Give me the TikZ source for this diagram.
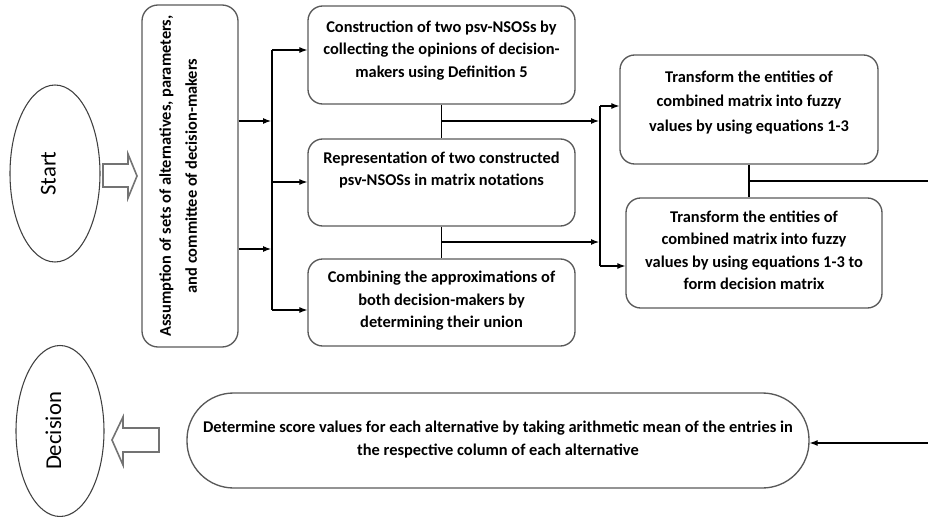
\documentclass[tikz,border=0pt]{standalone}
\usepackage{fontspec}
\setmainfont{Carlito}
\usetikzlibrary{shapes.geometric, arrows.meta}

% text of a box: height, width, gap above the first line, lines
\newcommand{\boxtxt}[4]{\parbox[c][#1][t]{#2}{\centering\vspace*{#3}\strut#4}}
% upright text of an oval, set a little to the left
\newcommand{\ovaltxt}[1]{\rotatebox{90}{#1\rule[-10pt]{0pt}{10pt}}}

\begin{document}
\begin{tikzpicture}[x=0.75pt, y=-0.75pt,
    box/.style={draw=black!65, line width=1pt, rounded corners=11pt, inner sep=0pt,
      font=\bfseries\fontsize{12.3}{16.9}\selectfont},
    oval/.style={ellipse, draw=black!75, line width=0.8pt, inner sep=0pt,
      font=\fontsize{17}{20}\selectfont},
    arr/.style={-{Latex[length=6pt,width=4.5pt]}, line width=0.8pt},
    link/.style={line width=0.8pt},
    hollow/.style={draw=black!55, line width=1.2pt, fill=white}]
  \useasboundingbox (0,0) rectangle (928,517);
  \clip (0,0) rectangle (928,517);

  % Start and first step
  \node[oval, minimum width=67.5pt, minimum height=132.75pt] (start) at (55,173.5) {\ovaltxt{Start}};
  \node[box, rounded corners=12pt] (assume) at (190,176)
    {\rotatebox{90}{\parbox[c][72pt][t]{256.5pt}{\centering\fontsize{12.3}{19.5}\selectfont\vspace*{8pt}\strut
      Assumption of sets of alternatives, parameters,\\ and committee of decision-makers}}};
  \draw[hollow] (103,164) -- (128,164) -- (128,154) -- (137,176) -- (128,198) -- (128,187) -- (103,187) -- cycle;

  % Middle column
  \node[box] (constr) at (441.5,55) {\boxtxt{73.5pt}{200.25pt}{7.7pt}{Construction of two psv-NSOSs by\\ collecting the opinions of decision-\\ makers using Definition 5}};
  \node[box] (repr) at (441.5,182.5) {\boxtxt{65.25pt}{200.25pt}{6.2pt}{Representation of two constructed\\ psv-NSOSs in matrix notations}};
  \node[box] (comb) at (441.5,302.5) {\boxtxt{65.25pt}{200.25pt}{6pt}{Combining the approximations of\\ both decision-makers by\\ determining their union}};

  % Right column
  \node[box, font=\bfseries\fontsize{12.3}{18}\selectfont] (trans1) at (749,109.5) {\boxtxt{81.75pt}{193.5pt}{8.4pt}{Transform the entities of\\ combined matrix into fuzzy\\ values by using equations 1-3}};
  \node[box] (trans2) at (754,253) {\boxtxt{82.5pt}{192pt}{6.2pt}{Transform the entities of\\ combined matrix into fuzzy\\ values by using equations 1-3 to\\ form decision matrix}};

  % Last step and decision
  \node[box, rounded corners=35pt] (score) at (498,440.5) {\boxtxt{71.25pt}{466.5pt}{18.1pt}{Determine score values for each alternative by taking arithmetic mean of the entries in\\ the respective column of each alternative}};
  \node[oval, minimum width=66pt, minimum height=128.25pt] (decision) at (60,431) {\ovaltxt{Decision}};
  \draw[hollow] (159,428) -- (123,428) -- (123,417) -- (112,440) -- (123,465) -- (123,452) -- (159,452) -- cycle;

  % Bus after the first step
  \coordinate (busA) at (271,121);
  \coordinate (busB) at (271,249);
  \coordinate (busT) at (272,50);
  \coordinate (busM) at (272,182);
  \coordinate (busL) at (272,310);
  \draw[arr] (assume.east |- busA) -- (busA);
  \draw[arr] (assume.east |- busB) -- (busB);
  \draw[link] (busT) -- (busL);
  \draw[arr] (busT) -- (constr.west |- busT);
  \draw[arr] (busM) -- (repr.west |- busM);
  \draw[arr] (busL) -- (comb.west |- busL);

  % Bus before the right column
  \coordinate (rbusA) at (599,121);
  \coordinate (rbusB) at (599,242);
  \coordinate (rbusT) at (600,106);
  \coordinate (rbusL) at (600,266);
  \draw[link] (constr.south) -- (repr.north);
  \draw[link] (repr.south) -- (comb.north);
  \draw[arr] (constr.south |- rbusA) -- (rbusA);
  \draw[arr] (repr.south |- rbusB) -- (rbusB);
  \draw[link] (rbusT) -- (rbusL);
  \draw[arr] (rbusT) -- (trans1.west |- rbusT);
  \draw[arr] (rbusL) -- (trans2.west |- rbusL);

  % Back to the score values
  \coordinate (outR) at (945,181);
  \coordinate (outB) at (945,443);
  \draw[link] (trans1.south) -- (trans1.south |- trans2.north);
  \draw[arr] (trans1.south |- outR) -- (outR) -- (outB) -- (score.east |- outB);
\end{tikzpicture}
\end{document}
